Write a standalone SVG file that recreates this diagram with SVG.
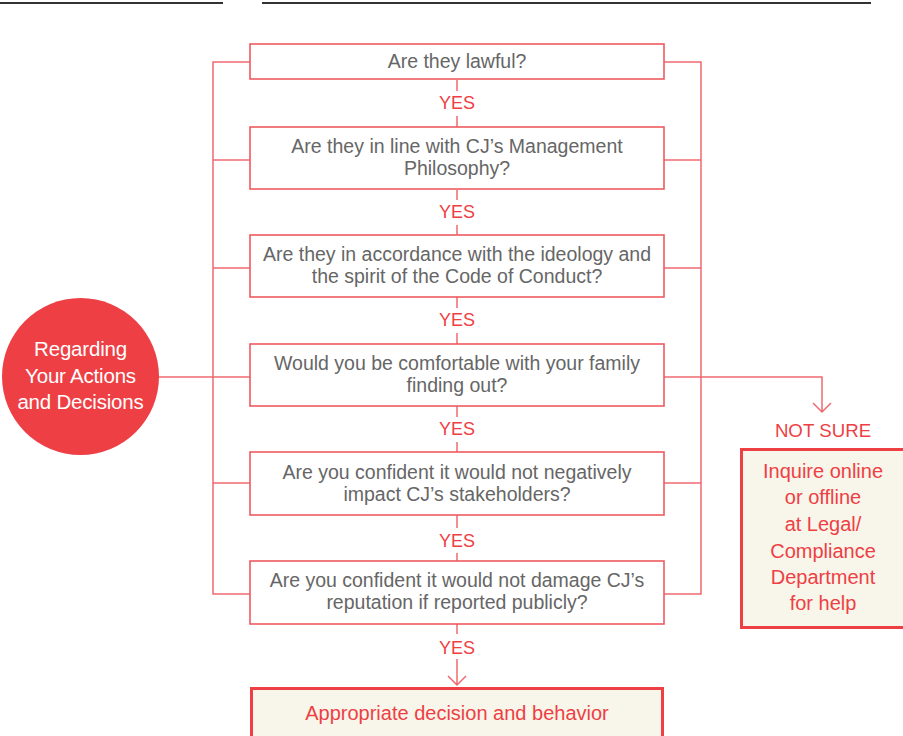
<svg xmlns="http://www.w3.org/2000/svg" width="903" height="736" viewBox="0 0 903 736">
<style>
.q{fill:#fff;stroke:#ef5a60;stroke-width:1.6}
.qt{font-family:"Liberation Sans",Arial,sans-serif;font-size:19.5px;fill:#666;text-anchor:middle}
.yes{font-family:"Liberation Sans",Arial,sans-serif;font-size:18px;fill:#ee3f45;text-anchor:middle}
.c{fill:none;stroke:#ef6a70;stroke-width:1.5}
.res{fill:#f8f5ea;stroke:#ee3f45;stroke-width:3}
.rt{font-family:"Liberation Sans",Arial,sans-serif;font-size:20px;fill:#ee3f45;text-anchor:middle}
.wt{font-family:"Liberation Sans",Arial,sans-serif;font-size:20.5px;fill:#fff;text-anchor:middle;letter-spacing:-0.2px}
</style>
<g id="header">
<line x1="0" y1="3" x2="223" y2="3" stroke="#333" stroke-width="2"/>
<line x1="262" y1="3" x2="871" y2="3" stroke="#333" stroke-width="2"/>
</g>
<g id="connectors">
<path class="c" d="M250 62H213V594H250M213 160H250M213 268H250M213 377H250M213 483H250"/>
<path class="c" d="M664 62H701V594H664M701 160H664M701 268H664M701 483H664"/>
<path class="c" d="M159 377H213"/>
<path class="c" d="M664 377H822V412M813 403L822 412L831 403"/>
<path class="c" d="M457 80V91M457 116V127M457 190V200M457 225V235M457 297V308M457 333V344M457 406V417M457 442V452M457 515V528M457 553V561M457 624V634M457 659V685M448 676L457 685L466 676"/>
<text class="yes" x="457" y="109">YES</text>
<text class="yes" x="457" y="218">YES</text>
<text class="yes" x="457" y="326">YES</text>
<text class="yes" x="457" y="435">YES</text>
<text class="yes" x="457" y="547">YES</text>
<text class="yes" x="457" y="654">YES</text>
<text class="yes" x="823" y="437" style="font-size:18.7px">NOT SURE</text>
</g>
<g id="start">
<circle cx="80.5" cy="376.5" r="78.5" fill="#ee3f45"/>
<text class="wt" x="80.5" y="356">Regarding</text>
<text class="wt" x="80.5" y="383">Your Actions</text>
<text class="wt" x="80.5" y="409">and Decisions</text>
</g>
<g id="q1">
<rect class="q" x="250" y="44" width="414" height="35"/>
<text class="qt" x="457" y="68">Are they lawful?</text>
</g>
<g id="q2">
<rect class="q" x="250" y="127" width="414" height="62"/>
<text class="qt" x="457" y="153">Are they in line with CJ’s Management</text>
<text class="qt" x="457" y="175">Philosophy?</text>
</g>
<g id="q3">
<rect class="q" x="250" y="235" width="414" height="62"/>
<text class="qt" x="457" y="261">Are they in accordance with the ideology and</text>
<text class="qt" x="457" y="283">the spirit of the Code of Conduct?</text>
</g>
<g id="q4">
<rect class="q" x="250" y="344" width="414" height="62"/>
<text class="qt" x="457" y="370">Would you be comfortable with your family</text>
<text class="qt" x="457" y="392">finding out?</text>
</g>
<g id="q5">
<rect class="q" x="250" y="452" width="414" height="63"/>
<text class="qt" x="457" y="479">Are you confident it would not negatively</text>
<text class="qt" x="457" y="501">impact CJ’s stakeholders?</text>
</g>
<g id="q6">
<rect class="q" x="250" y="561" width="414" height="63"/>
<text class="qt" x="457" y="587">Are you confident it would not damage CJ’s</text>
<text class="qt" x="457" y="609">reputation if reported publicly?</text>
</g>
<g id="help">
<rect class="res" x="741.5" y="449.5" width="170" height="178"/>
<text class="rt" x="823" y="478">Inquire online</text>
<text class="rt" x="823" y="504">or offline</text>
<text class="rt" x="823" y="531">at Legal/</text>
<text class="rt" x="823" y="558">Compliance</text>
<text class="rt" x="823" y="584">Department</text>
<text class="rt" x="823" y="610">for help</text>
</g>
<g id="result">
<rect class="res" x="251.5" y="688.5" width="411" height="60"/>
<text class="rt" x="457" y="720">Appropriate decision and behavior</text>
</g>
</svg>
